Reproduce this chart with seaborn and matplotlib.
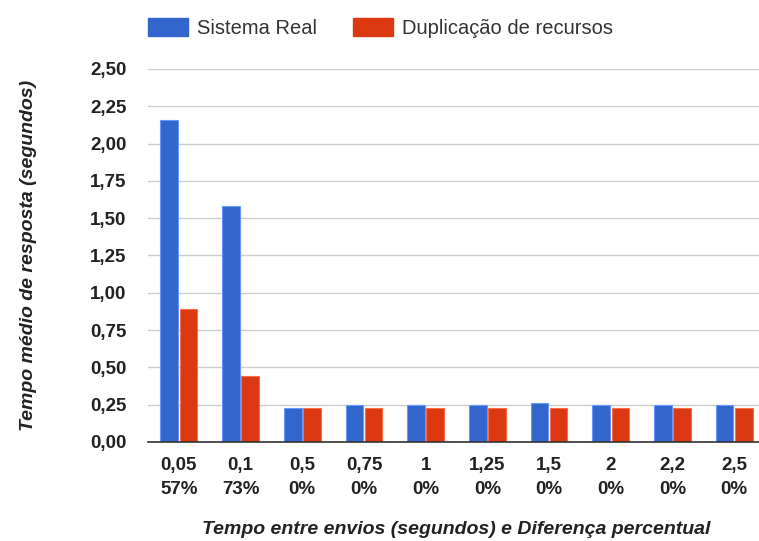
import seaborn as sns
import matplotlib.pyplot as plt
import pandas as pd

# Data
intervalos = ['0,05', '0,1', '0,5', '0,75', '1', '1,25', '1,5', '2', '2,2', '2,5']
diferenca = ['57%', '73%', '0%', '0%', '0%', '0%', '0%', '0%', '0%', '0%']
sistema_real = [2.16, 1.58, 0.23, 0.245, 0.245, 0.245, 0.26, 0.25, 0.25, 0.25]
duplicacao = [0.89, 0.44, 0.23, 0.23, 0.23, 0.23, 0.23, 0.23, 0.23, 0.23]
series = ['Sistema Real', 'Duplicação de recursos']
cores = ['#3366CC', '#DC3912']

sns.set_theme(style='white')
plt.rcParams['font.family'] = ['Liberation Sans', 'DejaVu Sans']

# long format for seaborn
rotulos = [f'{a}\n{b}' for a, b in zip(intervalos, diferenca)]
df = pd.DataFrame({
    'rotulo': rotulos * 2,
    'valor': sistema_real + duplicacao,
    'serie': [series[0]] * len(rotulos) + [series[1]] * len(rotulos),
})

fig = plt.figure(figsize=(7.59, 5.41), dpi=100)
ax = fig.add_axes([0.195, 0.183, 0.813, 0.6895])

sns.barplot(data=df, x='rotulo', y='valor', hue='serie', order=rotulos,
            hue_order=series, palette=cores, width=0.62, gap=0.08,
            ax=ax, legend=False, linewidth=0.8, saturation=1)
for patch in ax.patches:
    fc = patch.get_facecolor()
    patch.set_edgecolor(tuple(min(1, c + 0.2) for c in fc[:3]))

ax.set_xlim(-0.5, 9.5)
ax.set_ylim(0, 2.5)
ax.set_yticks([i * 0.25 for i in range(11)])
ax.set_yticklabels([f'{i * 0.25:.2f}'.replace('.', ',') for i in range(11)])
ax.yaxis.grid(True, color='#cccccc', linewidth=1)
ax.set_axisbelow(True)
for s in ['top', 'right', 'left']:
    ax.spines[s].set_visible(False)
ax.spines['bottom'].set_color('#333333')
ax.spines['bottom'].set_linewidth(1.2)
ax.tick_params(axis='both', length=0, labelsize=13.5, labelcolor='#222222')
ax.tick_params(axis='y', pad=15.5)
ax.tick_params(axis='x', pad=11)
for lab in ax.get_xticklabels() + ax.get_yticklabels():
    lab.set_fontweight('bold')
    lab.set_linespacing(1.5)

ax.set_xlabel('Tempo entre envios (segundos) e Diferença percentual',
              fontsize=14, fontweight='bold', fontstyle='italic',
              color='#222222', labelpad=17)
ax.set_ylabel('Tempo médio de resposta (segundos)', fontsize=14,
              fontweight='bold', fontstyle='italic', color='#222222', labelpad=38)

handles = [plt.Rectangle((0, 0), 1, 1, facecolor=c, edgecolor=c) for c in cores]
fig.legend(handles, series, loc='upper left', bbox_to_anchor=(0.195, 0.966),
           ncol=2, frameon=False, fontsize=14.5, handlelength=2.0,
           handleheight=1.0, columnspacing=1.75, handletextpad=0.45,
           borderpad=0, borderaxespad=0, labelcolor='#333333')

plt.savefig('out.png', dpi=100)
